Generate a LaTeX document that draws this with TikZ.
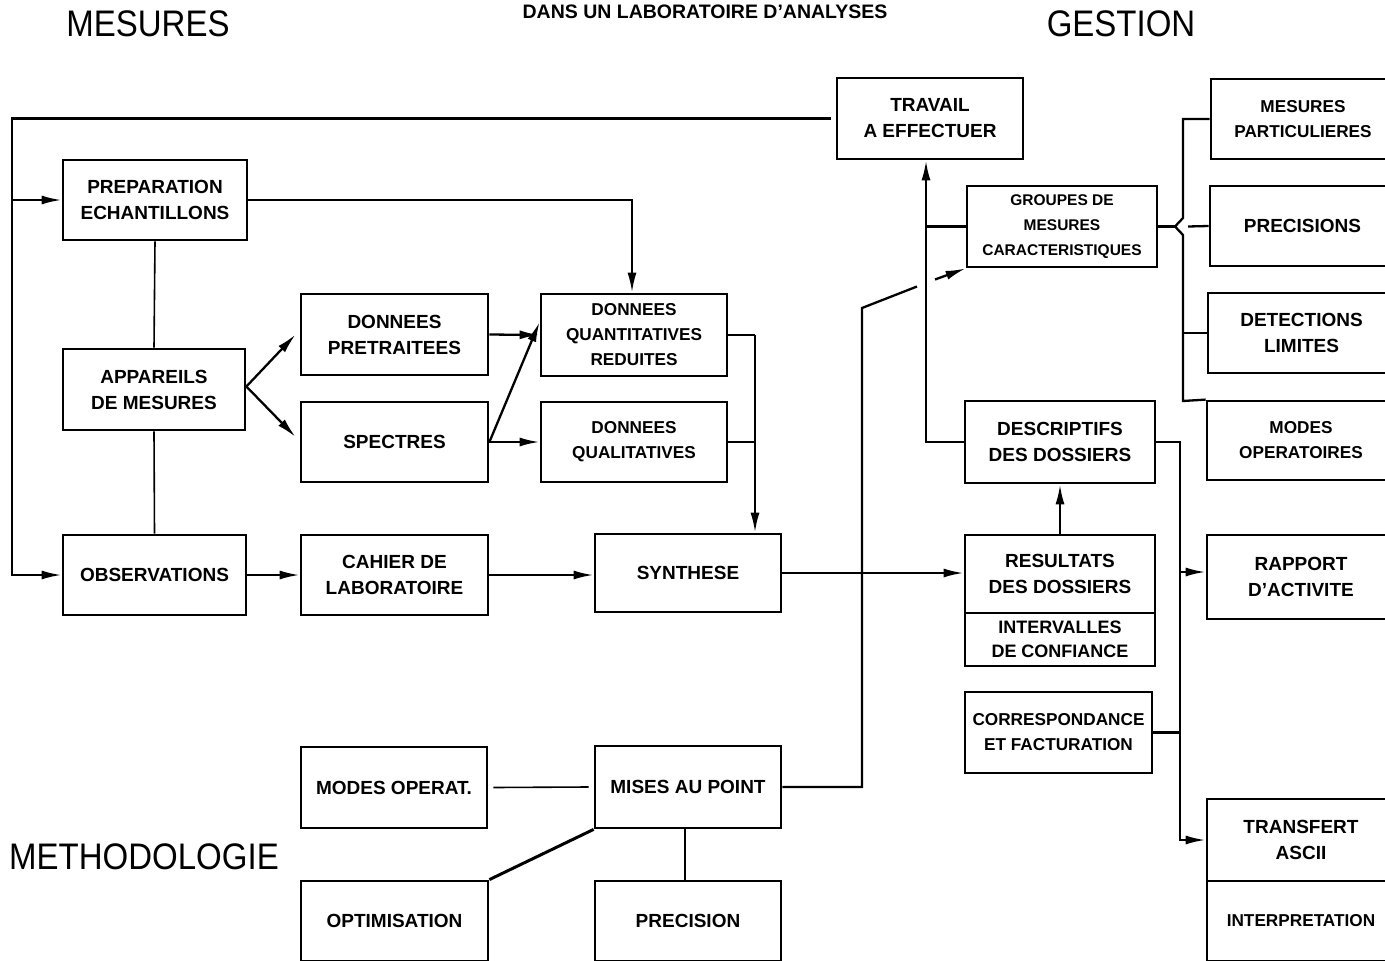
\documentclass[tikz,border=0pt]{standalone}
\usepackage{fontspec}
\setmainfont{Liberation Sans}
\usepackage{graphicx}
\usetikzlibrary{arrows.meta}
\newcommand\bx[7][]{\node[box,#1,minimum width={#5-#3},minimum height={#6-#4}] (#2) at ({(#3+#5)/2},{(#4+#6)/2}) {#7};}
\begin{document}
\begin{tikzpicture}[x=1pt,y=-1pt,
  box/.style={draw, line width=2.8pt, align=center, inner sep=0pt,
    font=\bfseries\fontsize{19}{26}\selectfont},
  cond/.style={font=\bfseries\fontsize{17.2}{25}\selectfont},
  ccond/.style={font=\bfseries\fontsize{15.5}{25}\selectfont},
  conn/.style={line width=2.3pt},
  arr/.style={conn, -{Latex[length=20pt,width=9pt]}},
  thinline/.style={line width=1.6pt},
  title/.style={font=\fontsize{33}{33}\selectfont, inner sep=0pt}]
\useasboundingbox (0,0) rectangle (1385,961);
\fill[white] (0,0) rectangle (1385,961);
% titles
\node[title] (tmes) at (148,24) {\scalebox{1}[1.12]{MESURES}};
\node[title] (tges) at (1121,24) {\scalebox{1}[1.12]{GESTION}};
\node[title] (tmeth) at (144,857) {\scalebox{1}[1.12]{METHODOLOGIE}};
\node[font=\bfseries\fontsize{19.5}{19}\selectfont, inner sep=0pt] (sub) at (705,12) {DANS UN LABORATOIRE D'ANALYSES};
% boxes
\bx{prep}{63}{160}{247}{240}{PREPARATION\\ECHANTILLONS}
\bx{app}{63}{349}{245}{430}{APPAREILS\\DE MESURES}
\bx{obs}{63}{535}{246}{615}{OBSERVATIONS}
\bx{dp}{301}{294}{488}{375}{DONNEES\\PRETRAITEES}
\bx{spec}{301}{402}{488}{482}{SPECTRES}
\bx[cond]{dqr}{541}{294}{727}{376}{DONNEES\\QUANTITATIVES\\REDUITES}
\bx[cond]{dq}{541}{402}{727}{482}{DONNEES\\QUALITATIVES}
\bx{cah}{301}{535}{488}{615}{CAHIER DE\\LABORATOIRE}
\bx{syn}{595}{534}{781}{612}{SYNTHESE}
\bx{mo}{301}{747}{487}{828}{MODES OPERAT.}
\bx{mis}{595}{746}{781}{828}{MISES AU POINT}
\bx{opt}{301}{881}{488}{961}{OPTIMISATION}
\bx{pre}{595}{881}{781}{961}{PRECISION}
\bx{trav}{837}{78}{1023}{159}{TRAVAIL\\A EFFECTUER}
\bx[ccond]{grp}{967}{186}{1157}{267}{GROUPES DE\\MESURES\\CARACTERISTIQUES}
\bx{desc}{965}{401}{1155}{483}{DESCRIPTIFS\\DES DOSSIERS}
\bx{res}{965}{535}{1155}{613}{RESULTATS\\DES DOSSIERS}
\bx[font=\bfseries\fontsize{18}{24}\selectfont]{int}{965}{613}{1155}{666}{INTERVALLES\\DE CONFIANCE}
\bx[cond]{corr}{965}{692}{1152}{773}{CORRESPONDANCE\\ET FACTURATION}
\bx[cond]{mp}{1211}{79}{1395}{159}{MESURES\\PARTICULIERES}
\bx{prc}{1210}{186}{1395}{266}{PRECISIONS}
\bx{det}{1208}{293}{1395}{373}{DETECTIONS\\LIMITES}
\bx[cond]{mop}{1207}{401}{1395}{480}{MODES\\OPERATOIRES}
\bx{rap}{1207}{535}{1395}{619}{RAPPORT\\D'ACTIVITE}
\bx{trf}{1207}{799}{1395}{881}{TRANSFERT\\ASCII}
\bx[cond]{itp}{1207}{881}{1395}{961}{INTERPRETATION}
% coordinates
\coordinate (fl) at (12,118);
\coordinate (fb) at (12,575);
\coordinate (j1) at (755,335);
\coordinate (k1) at (862,308);
\coordinate (g1) at (917,286.5);
\coordinate (g2) at (935,279.5);
\coordinate (v1) at (926,442);
\coordinate (bt) at (1183,119);
\coordinate (bu) at (1183,218);
\coordinate (bk) at (1175,226.5);
\coordinate (bl) at (1183,235);
\coordinate (bb) at (1183,401);
\coordinate (bp) at (1188,226.5);
\coordinate (vr) at (1180,442);
\coordinate (vb) at (1180,840);
% connectors
\draw[arr] ([xshift=-5pt]trav.west) -| (fb) -- (obs.west);
\draw[arr] (prep.west -| fl) -- (prep.west);
\draw[arr] (prep.east) -| ([xshift=-2pt]dqr.north);
\draw[thinline] (prep.south) -- (app.north);
\draw[thinline] (app.south) -- (obs.north);
\draw[arr] ([yshift=3pt]app.east) -- ([xshift=-4pt]dp.west);
\draw[arr] ([yshift=3pt]app.east) -- ([xshift=-4pt,yshift=5pt]spec.west);
\draw[arr] (dp.east) -- (dqr.west);
\draw[arr] (spec.east) -- ([yshift=13pt]dqr.west);
\draw[arr] (spec.east) -- (dq.west);
\draw[conn] (dqr.east) -- (j1);
\draw[arr] (j1) -- (j1 |- syn.north);
\draw[conn] (dq.east) -- (dq.east -| j1);
\draw[arr] (obs.east) -- (cah.west);
\draw[arr] (cah.east) -- (cah.east -| syn.west);
\draw[arr] (syn.east) -- (syn.east -| res.west);
\draw[conn] (mis.east) -| (k1) -- (g1);
\draw[arr] (g2) -- (grp.south west);
\draw[arr] (desc.west) -- (v1) -- (v1 |- trav.south);
\draw[conn] (grp.west) -- (grp.west -| v1);
\draw[conn] (mp.west) -- (mp.west -| bt) -- (bu) -- (bk) -- (bl) -- (bb) -- (mop.north west);
\draw[conn] (grp.east) -- (bk);
\draw[conn] (bp) -- (prc.west);
\draw[conn] (det.west) -- (det.west -| bt);
\draw[arr] (desc.east) -- (vr) -- (vb) -- (trf.west);
\draw[arr] ([yshift=5pt]rap.west -| vr) -- ([yshift=5pt]rap.west);
\draw[conn] (corr.east) -- (corr.east -| vr);
\draw[arr] (res.north) -- (desc.south);
\draw[thinline] ([xshift=5pt]mo.east) -- ([xshift=-5pt]mis.west);
\draw[line width=3pt] (mis.south west) -- (opt.north east);
\draw[thinline] ([xshift=-3pt]mis.south) -- ([xshift=-3pt]mis.south |- pre.north);
\end{tikzpicture}
\end{document}
